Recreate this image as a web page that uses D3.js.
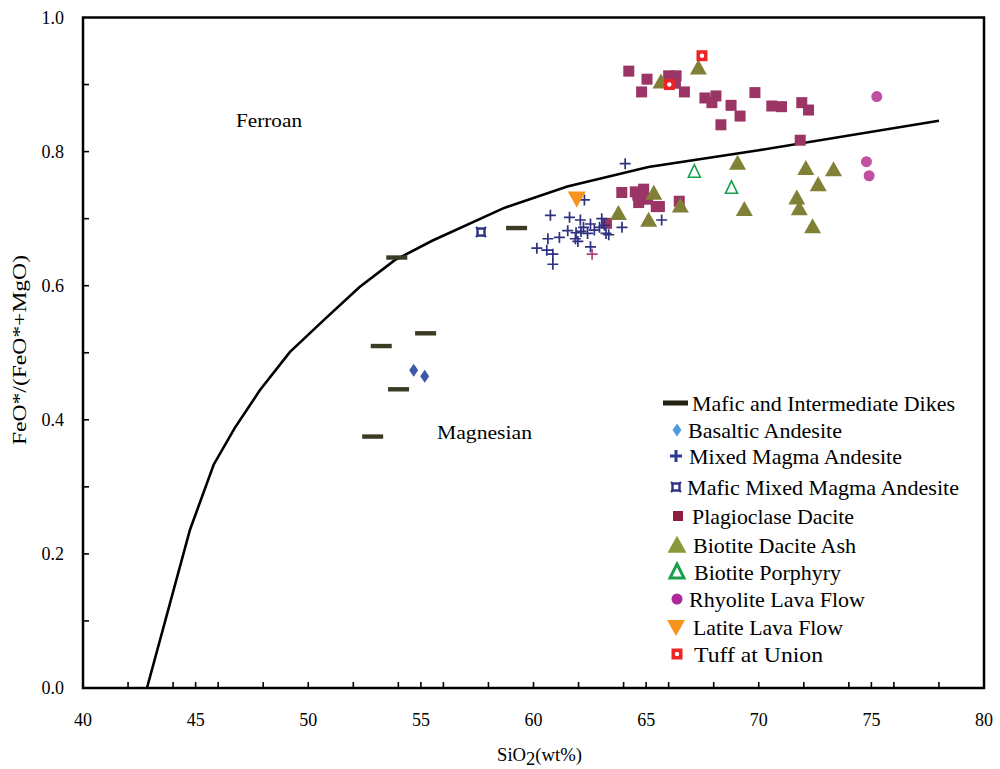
<!DOCTYPE html>
<html><head><meta charset="utf-8">
<script src="https://cdn.jsdelivr.net/npm/d3@7/dist/d3.min.js"></script>
<style>body{margin:0;background:#fff}svg{display:block}</style>
</head><body><svg id="c" width="1000" height="769"></svg>
<script>
// ---- data ----
const xTicks = [40,45,50,55,60,65,70,75,80];
const yTicks = [0.0,0.2,0.4,0.6,0.8,1.0];
const boundarySi = [42.84,44.75,45.8,46.74,47.85,49.18,50.7,52.28,53.84,55.5,58.7,61.5,65.1,70.0,78.0];
const boundaryFe = [0.0,0.236,0.333,0.388,0.444,0.501,0.549,0.598,0.638,0.667,0.716,0.748,0.777,0.802,0.846];
const dikesSi = [53.93,59.25,55.21,53.24,54.01,52.86];
const dikesFe = [0.642,0.686,0.529,0.510,0.4455,0.375];
const basalticSi = [54.68,55.17];
const basalticFe = [0.474,0.465];
const mixedSi = [64.07,62.26,60.75,61.6,62.08,63.03,62.53,62.22,61.89,61.52,62.7,62.93,63.15,63.22,63.34,62.4,62.11,61.15,61.86,61.97,60.64,60.15,60.59,60.86,60.86,62.53,63.93,65.69];
const mixedFe = [0.782,0.728,0.705,0.702,0.698,0.700,0.692,0.687,0.679,0.682,0.683,0.687,0.690,0.678,0.676,0.678,0.681,0.672,0.670,0.666,0.670,0.656,0.653,0.647,0.632,0.658,0.687,0.698];
const mixedPinkSi = [62.6];
const mixedPinkFe = [0.647];
const maficMixedSi = [57.67];
const maficMixedFe = [0.680];
const plagSi = [64.23,65.04,66.0,66.33,66.3,64.8,66.7,67.61,68.1,67.92,68.77,69.83,69.17,68.32,70.58,71.01,71.91,72.21,71.84,63.92,64.52,64.89,64.67,65.07,64.63,65.59,65.45,66.47,63.24];
const plagFe = [0.920,0.908,0.913,0.913,0.902,0.889,0.889,0.880,0.883,0.873,0.869,0.888,0.853,0.840,0.868,0.867,0.873,0.862,0.817,0.739,0.740,0.744,0.724,0.729,0.735,0.718,0.718,0.726,0.693];
const ashSi = [67.32,65.66,69.06,72.09,73.32,72.64,71.69,71.8,72.39,69.36,66.52,65.34,65.11,63.77];
const ashFe = [0.924,0.903,0.782,0.774,0.772,0.750,0.730,0.714,0.687,0.713,0.718,0.737,0.697,0.707];
const porphSi = [67.14,68.79];
const porphFe = [0.770,0.746];
const rhyoSi = [75.24,74.78,74.9];
const rhyoFe = [0.882,0.785,0.764];
const latiteSi = [61.92];
const latiteFe = [0.730];
const tuffSi = [67.48,66.03];
const tuffFe = [0.943,0.900];
const legendLabels = ["Mafic and Intermediate Dikes","Basaltic Andesite","Mixed Magma Andesite","Mafic Mixed Magma Andesite","Plagioclase Dacite","Biotite Dacite Ash","Biotite Porphyry","Rhyolite Lava Flow","Latite Lava Flow","Tuff at Union"];

// ---- layout ----
const FONT = "Liberation Serif";
const svg = d3.select("#c");
const L=83, R=984, T=17.5, B=688;
const x = d3.scaleLinear().domain([40,80]).range([L,R]);
const y = d3.scaleLinear().domain([0,1]).range([B,T]);
const zip=(a,b)=>a.map((v,i)=>[v,b[i]]);

svg.append("rect").attr("x",L).attr("y",T).attr("width",R-L).attr("height",B-T)
  .attr("fill","none").attr("stroke","#000").attr("stroke-width",2.5);
const xMinor = d3.range(41,80).filter(v=>v%2===0||v%5===0);
svg.append("g").selectAll("line").data(xMinor).join("line")
  .attr("x1",d=>x(d)).attr("x2",d=>x(d)).attr("y1",B).attr("y2",B-6)
  .attr("stroke","#000").attr("stroke-width",1.6);
const yMinor = d3.range(1,10).map(v=>v/10);
svg.append("g").selectAll("line").data(yMinor).join("line")
  .attr("x1",L).attr("x2",L+6).attr("y1",d=>y(d)).attr("y2",d=>y(d))
  .attr("stroke","#000").attr("stroke-width",1.6);
svg.append("g").selectAll("text").data(xTicks).join("text")
  .attr("font-family",FONT).attr("x",d=>x(d)).attr("y",726).attr("text-anchor","middle").attr("font-size",18)
  .text(d=>d);
svg.append("g").selectAll("text").data(yTicks).join("text")
  .attr("font-family",FONT).attr("x",64).attr("y",d=>y(d)+6).attr("text-anchor","end").attr("font-size",18)
  .text(d=>d.toFixed(1));
const xt = svg.append("text").attr("font-family",FONT).attr("x",497).attr("y",761).attr("font-size",18)
  .attr("textLength",85).attr("lengthAdjust","spacingAndGlyphs");
xt.append("tspan").text("SiO");
xt.append("tspan").attr("dy",4).text("2");
xt.append("tspan").attr("dy",-4).text("(wt%)");
svg.append("text").attr("font-family",FONT).attr("transform","translate(26,350) rotate(-90)").attr("text-anchor","middle")
  .attr("font-size",18).attr("textLength",190).attr("lengthAdjust","spacingAndGlyphs").text("FeO*/(FeO*+MgO)");
svg.append("text").attr("font-family",FONT).attr("x",236).attr("y",127).attr("font-size",19)
  .attr("textLength",66).attr("lengthAdjust","spacingAndGlyphs").text("Ferroan");
svg.append("text").attr("font-family",FONT).attr("x",437).attr("y",439).attr("font-size",19)
  .attr("textLength",95).attr("lengthAdjust","spacingAndGlyphs").text("Magnesian");

svg.append("path").datum(zip(boundarySi,boundaryFe))
  .attr("d",d3.line().x(d=>x(d[0])).y(d=>y(d[1])))
  .attr("fill","none").attr("stroke","#000").attr("stroke-width",2.6);

// ---- marker drawers ----
const C = {dike:"#3b3b24",bas:"#3d58a8",basL:"#4f9be0",mix:"#2e3080",pink:"#b0407a",plag:"#9b3566",ash:"#808036",por:"#17a04c",rhy:"#c050a0",lat:"#f7941d",tuff:"#ee2424"};
function dike(g,cx,cy){g.append("rect").attr("x",cx-10.5).attr("y",cy-2.2).attr("width",21).attr("height",4.4).attr("fill",C.dike);}
function diamond(g,cx,cy,col){g.append("path").attr("d",`M${cx},${cy-6.5}L${cx+4.5},${cy}L${cx},${cy+6.5}L${cx-4.5},${cy}Z`).attr("fill",col);}
function plus(g,cx,cy,col,s=5.5,w=1.7){g.append("path").attr("d",`M${cx-s},${cy}H${cx+s}M${cx},${cy-s}V${cy+s}`).attr("stroke",col).attr("stroke-width",w).attr("fill","none");}
function mafic(g,cx,cy){g.append("rect").attr("x",cx-3.5).attr("y",cy-3.5).attr("width",7).attr("height",7).attr("fill","#fff").attr("stroke",C.mix).attr("stroke-width",2.4);
  g.append("path").attr("d",`M${cx-5},${cy-5}l2,2M${cx+5},${cy-5}l-2,2M${cx-5},${cy+5}l2,-2M${cx+5},${cy+5}l-2,-2`).attr("stroke",C.mix).attr("stroke-width",2);}
function square(g,cx,cy,col,s=11){g.append("rect").attr("x",cx-s/2).attr("y",cy-s/2).attr("width",s).attr("height",s).attr("fill",col);}
function tri(g,cx,cy,col,w=17,h=15){g.append("path").attr("d",`M${cx},${cy-h*0.6}L${cx+w/2},${cy+h*0.4}L${cx-w/2},${cy+h*0.4}Z`).attr("fill",col);}
function otri(g,cx,cy,col){g.append("path").attr("d",`M${cx},${cy-7}L${cx+6},${cy+5.5}L${cx-6},${cy+5.5}Z`).attr("fill","#fff").attr("stroke",col).attr("stroke-width",1.6);}
function circ(g,cx,cy,col){g.append("circle").attr("cx",cx).attr("cy",cy).attr("r",5.5).attr("fill",col);}
function itri(g,cx,cy,col){g.append("path").attr("d",`M${cx-9},${cy-7}L${cx+9},${cy-7}L${cx},${cy+9}Z`).attr("fill",col);}
function tuff(g,cx,cy){square(g,cx,cy,C.tuff,11);g.append("circle").attr("cx",cx).attr("cy",cy).attr("r",2.2).attr("fill","#fff");}

const gp = svg.append("g");
zip(plagSi,plagFe).forEach(d=>square(gp,x(d[0]),y(d[1]),C.plag));
zip(ashSi,ashFe).forEach(d=>tri(gp,x(d[0]),y(d[1]),C.ash));
zip(porphSi,porphFe).forEach(d=>otri(gp,x(d[0]),y(d[1]),C.por));
zip(rhyoSi,rhyoFe).forEach(d=>circ(gp,x(d[0]),y(d[1]),C.rhy));
zip(mixedSi,mixedFe).forEach(d=>plus(gp,x(d[0]),y(d[1]),C.mix));
zip(mixedPinkSi,mixedPinkFe).forEach(d=>plus(gp,x(d[0]),y(d[1]),C.pink));
zip(maficMixedSi,maficMixedFe).forEach(d=>mafic(gp,x(d[0]),y(d[1])));
zip(basalticSi,basalticFe).forEach(d=>diamond(gp,x(d[0]),y(d[1]),C.bas));
zip(dikesSi,dikesFe).forEach(d=>dike(gp,x(d[0]),y(d[1])));
zip(latiteSi,latiteFe).forEach(d=>itri(gp,x(d[0]),y(d[1]),C.lat));
zip(tuffSi,tuffFe).forEach(d=>tuff(gp,x(d[0]),y(d[1])));

// ---- legend ----
const lg = svg.append("g");
const ly = [403,430,456,487,516,545,572,599,627,654];
const lx = [692,688,689,687,692,693,694,689,693,694];
const lr = [955,842,902,959,854,856,841,865,843,823];
const drawers = [
  (cy)=>{lg.append("rect").attr("x",663).attr("y",cy-2.5).attr("width",25).attr("height",5).attr("fill","#22200f");},
  (cy)=>diamond(lg,677,cy,C.basL),
  (cy)=>plus(lg,676,cy,"#2b3a8f",6,3),
  (cy)=>mafic(lg,676,cy),
  (cy)=>square(lg,678,cy,"#8e1f3e",10),
  (cy)=>tri(lg,677,cy+1,"#8a9a3a",19,17),
  (cy)=>{lg.append("path").attr("d",`M677,${cy-8}L684,${cy+6}L670,${cy+6}Z`).attr("fill","#fff").attr("stroke","#1a9f4a").attr("stroke-width",3);},
  (cy)=>{lg.append("circle").attr("cx",677).attr("cy",cy).attr("r",5.5).attr("fill","#b0279a");},
  (cy)=>itri(lg,676,cy,C.lat),
  (cy)=>tuff(lg,677,cy)
];
legendLabels.forEach((t,i)=>{
  drawers[i](ly[i]);
  lg.append("text").attr("font-family",FONT).attr("x",lx[i]).attr("y",ly[i]+7.5).attr("font-size",22)
    .attr("textLength",lr[i]-lx[i]).attr("lengthAdjust","spacingAndGlyphs").text(t);
});
</script></body></html>
